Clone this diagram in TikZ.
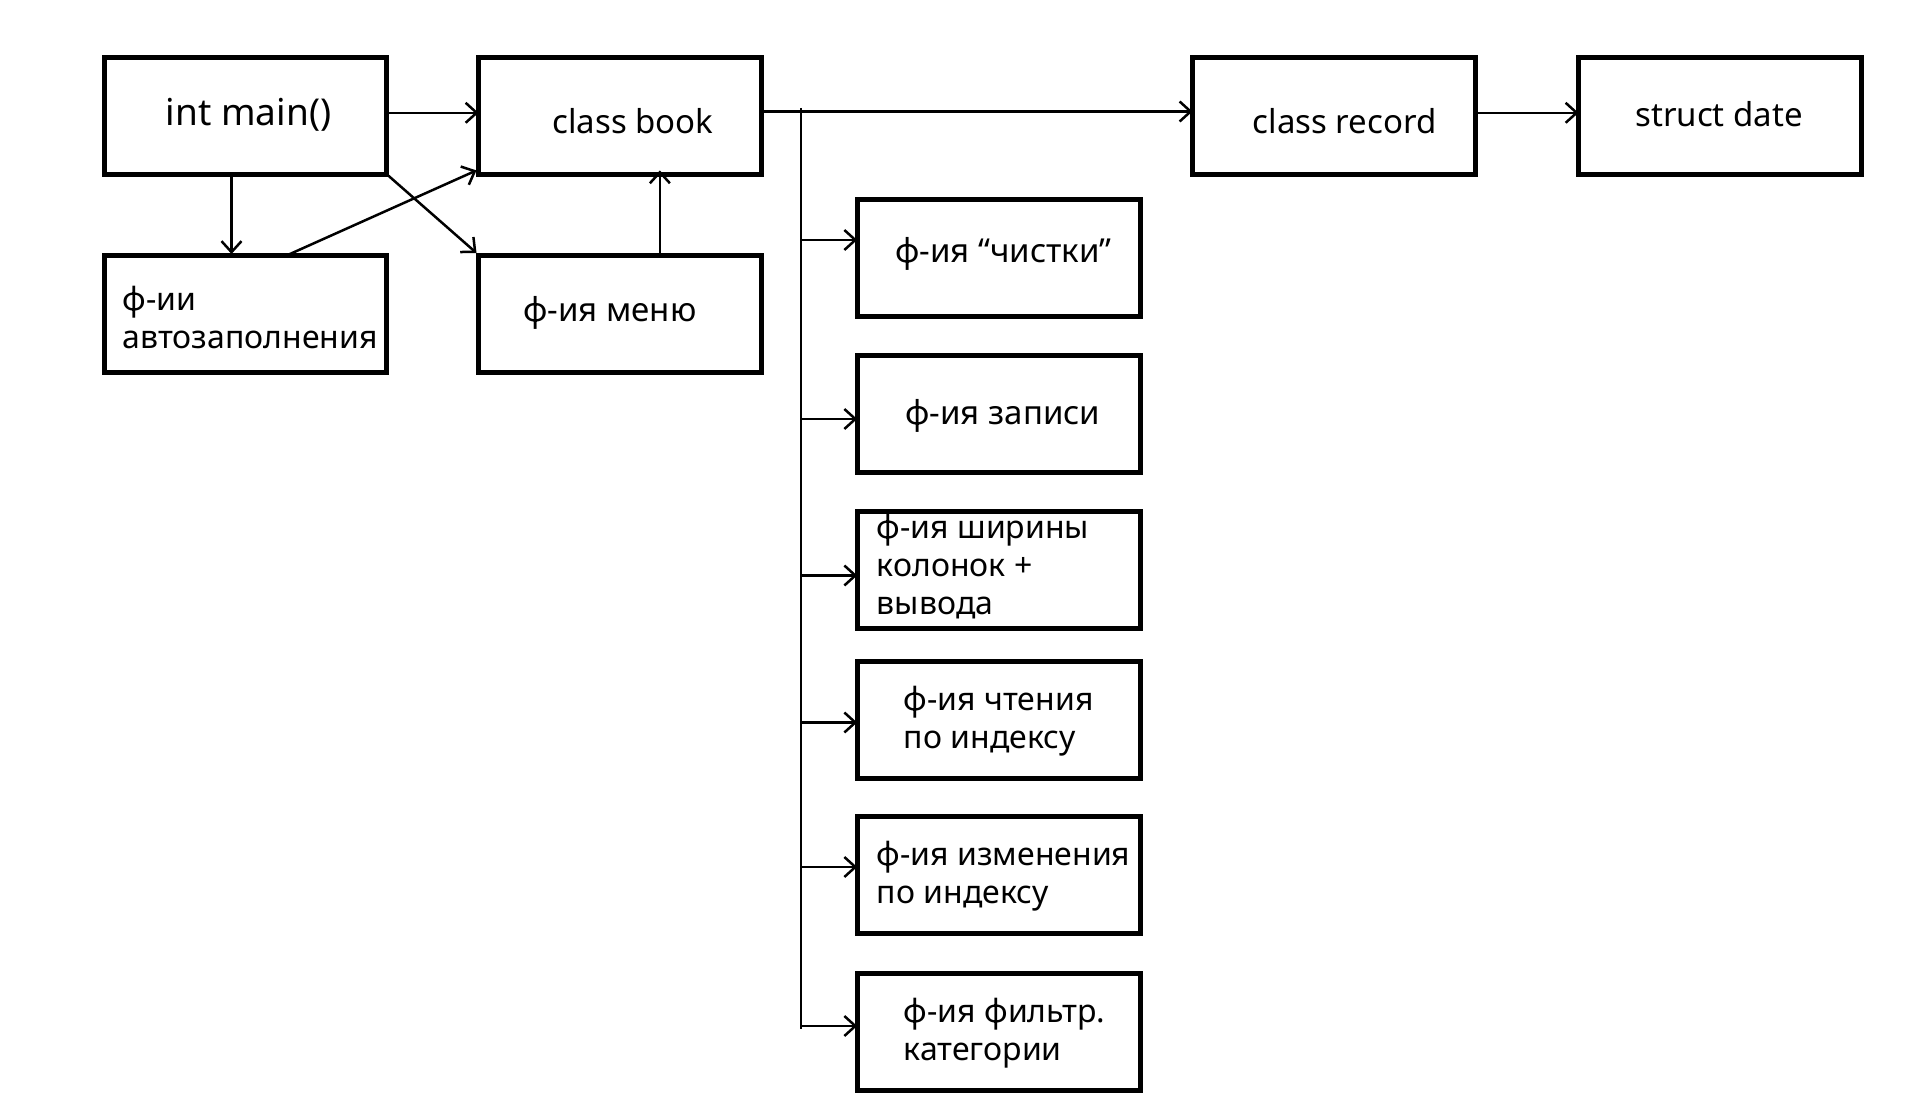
\documentclass[tikz,border=0pt]{standalone}
\usepackage{fontspec}
\setmainfont{Noto Sans}
\usetikzlibrary{arrows.meta,calc}
\begin{document}
\begin{tikzpicture}[x=1pt,y=-1pt,
  box/.style={draw, line width=5pt, minimum width=282.8pt, minimum height=116.8pt,
    inner sep=0pt, outer sep=0pt, anchor=north west},
  conn/.style={line width=2.5pt},
  arr/.style={conn, -{Straight Barb[length=11pt,width=20pt]}},
  txt/.style={font=\fontsize{33}{38}\selectfont, inner sep=0pt, align=left},
  ltxt/.style={font=\fontsize{32}{38}\selectfont, inner sep=0pt, align=left, anchor=west},
  bigtxt/.style={font=\fontsize{37}{42}\selectfont, inner sep=0pt}]
\path[fill=white, use as bounding box] (0,0) rectangle (1920,1118);

% boxes
\node[box] (main)   at (104.1,57.6) {};
\node[box] (book)   at (478.5,57.6) {};
\node[box] (record) at (1192.5,57.6) {};
\node[box] (date)   at (1578.5,57.6) {};
\node[box] (auto)   at (104.1,256) {};
\node[box] (menu)   at (478.5,256) {};
\node[box] (c1) at (857.2,199.9) {};
\node[box] (c2) at (857.2,355.4) {};
\node[box] (c3) at (857.2,511.4) {};
\node[box] (c4) at (857.2,661.4) {};
\node[box] (c5) at (857.2,816.4) {};
\node[box] (c6) at (857.2,973.4) {};

% texts
\node[bigtxt] (tmain) at (248.6,114.5) {int main()};
\node[txt] (tbook) at (633,121.2) {class book};
\node[txt] (trecord) at (1344.5,121.2) {class record};
\node[txt] (tdate) at (1719,113.9) {struct date};
\node[ltxt] (tauto) at (122.5,317.7) {ф-ии\\автозаполнения};
\node[txt] (tmenu) at (609.8,313) {ф-ия меню};
\node[txt] (tc1) at (1003.5,253.5) {ф-ия “чистки”};
\node[txt] (tc2) at (1002.9,415.5) {ф-ия записи};
\node[ltxt] (tc3) at (876.7,567) {ф-ия ширины\\колонок +\\вывода};
\node[ltxt] (tc4) at (903.7,721.6) {ф-ия чтения\\по индексу};
\node[ltxt] (tc5) at (876.7,875.9) {ф-ия изменения\\по индексу};
\node[ltxt] (tc6) at (903.7,1032.7) {ф-ия фильтр.\\категории};

% top row connectors
\draw[arr] ($(main.east)+(0,-3.2)$) -- ($(book.west)+(0,-3.2)$);
\draw[arr] ($(book.east)+(0,-4.5)$) -- ($(record.west)+(0,-4.5)$);
\draw[arr] ($(record.east)+(0,-3.2)$) -- ($(date.west)+(0,-3.2)$);

% left cluster
\draw[arr] ($(main.south)+(-14,0)$) -- ($(auto.north)+(-14,-2)$);
\draw[arr] ($(auto.north)+(40,0)$) -- ($(book.south west)+(-2,-4)$);
\draw[arr] (main.south east) -- ($(menu.north west)+(-2,-3)$);
\draw[arr] ($(menu.north)+(40,-2)$) -- ($(book.south)+(40,-4)$);

% trunk
\coordinate (tTop) at (800.8,108);
\coordinate (tBot) at (800.8,1029);
\draw[conn] (tTop) -- (tBot);
\coordinate (br1) at (800.8,240);
\coordinate (br2) at (800.8,419);
\coordinate (br3) at (800.8,575.5);
\coordinate (br4) at (800.8,722.5);
\coordinate (br5) at (800.8,867);
\coordinate (br6) at (800.8,1026);
\draw[arr] (br1) -- (c1.west |- br1);
\draw[arr] (br2) -- (c2.west |- br2);
\draw[arr] (br3) -- (c3.west |- br3);
\draw[arr] (br4) -- (c4.west |- br4);
\draw[arr] (br5) -- (c5.west |- br5);
\draw[arr] (br6) -- (c6.west |- br6);
\end{tikzpicture}
\end{document}
